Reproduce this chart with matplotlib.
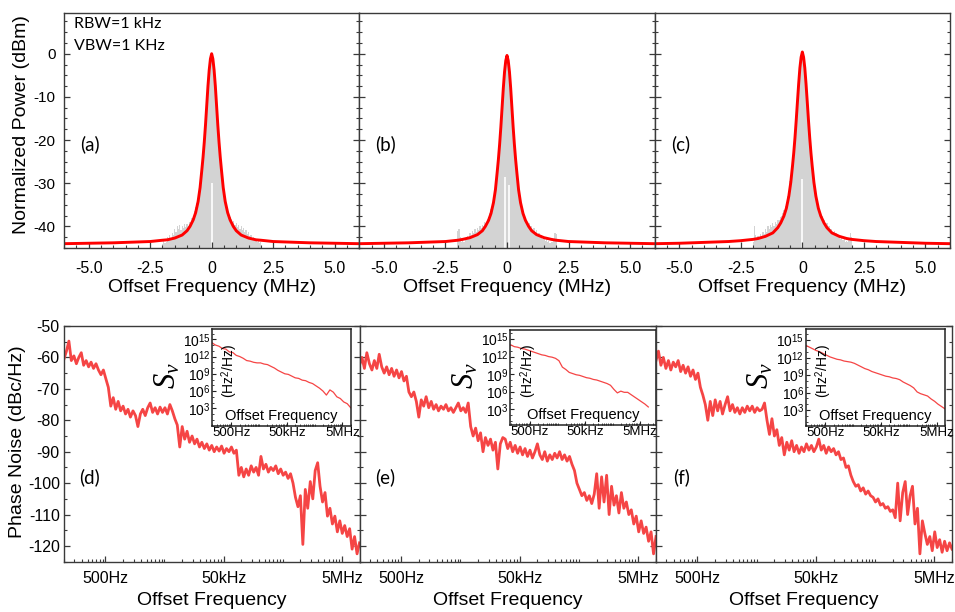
import numpy as np
import matplotlib
matplotlib.use("Agg")
import matplotlib.pyplot as plt
from matplotlib.ticker import FixedLocator, FixedFormatter, NullFormatter

plt.rcParams['font.family'] = ['Liberation Sans', 'DejaVu Sans']
plt.rcParams['mathtext.fontset'] = 'custom'
plt.rcParams['mathtext.rm'] = 'Liberation Sans'
plt.rcParams['mathtext.sf'] = 'Liberation Sans'
plt.rcParams['mathtext.it'] = 'Liberation Serif:italic'
plt.rcParams['mathtext.bf'] = 'Liberation Sans:bold'

# ------------------------------------------------------------------ data
# --- top row: beat-note spectra (offset frequency in MHz, power in dBm)
FIT_X = [-6, -5, -4, -3, -2.5, -2, -1.8, -1.5, -1.2, -1.0, -0.88, -0.75, -0.65,
         -0.55, -0.47, -0.4, -0.35, -0.3, -0.25, -0.2, -0.15, -0.1, -0.05, 0,
         0.05, 0.1, 0.15, 0.2, 0.25, 0.3, 0.35, 0.4, 0.47, 0.55, 0.65, 0.75,
         0.88, 1.0, 1.2, 1.5, 1.8, 2, 2.5, 3, 4, 5, 6]
_fa = [-44.0, -43.9, -43.8, -43.6, -43.5, -43.2, -43.1, -42.7, -42.0, -41.0, -40.0,
       -38.5, -36.8, -34.2, -31.0, -27.0, -24.0, -20.5, -16.5, -12.0, -7.5, -3.8, -1.2, 0.0]
_fb = [-44.0, -43.9, -43.8, -43.6, -43.5, -43.2, -43.0, -42.6, -41.9, -41.0, -40.0,
       -38.6, -37.0, -34.5, -31.5, -27.5, -24.5, -21.0, -17.0, -12.5, -8.0, -4.2, -1.6, -0.4]
_fc = [-44.0, -43.9, -43.7, -43.5, -43.3, -43.0, -42.8, -42.3, -41.5, -40.3, -39.2,
       -37.6, -35.8, -33.0, -29.8, -26.0, -23.0, -19.5, -15.5, -11.2, -7.0, -3.3, -0.8, 0.4]
FIT_A = _fa + _fa[-2::-1]
FIT_B = _fb + _fb[-2::-1]
FIT_C = _fc + _fc[-2::-1]

SPEC_X = [-2.0, -1.95, -1.9, -1.85, -1.8, -1.75, -1.7, -1.65, -1.6, -1.55,
          -1.5, -1.45, -1.4, -1.35, -1.3, -1.25, -1.2, -1.15, -1.1, -1.05,
          -1.0, -0.95, -0.9, -0.85, -0.8, -0.75, -0.7, -0.65, -0.6, -0.55,
          -0.5, -0.45, -0.4, -0.35, -0.3, -0.25, -0.2, -0.15, -0.1, -0.05,
          0.0,
          0.05, 0.1, 0.15, 0.2, 0.25, 0.3, 0.35, 0.4, 0.45, 0.5,
          0.55, 0.6, 0.65, 0.7, 0.75, 0.8, 0.85, 0.9, 0.95, 1.0,
          1.05, 1.1, 1.15, 1.2, 1.25, 1.3, 1.35, 1.4, 1.45, 1.5,
          1.55, 1.6, 1.65, 1.7, 1.75, 1.8, 1.85, 1.9, 1.95, 2.0]
SPEC_A = [-44.0, -43.0, -43.8, -43.5, -42.5, -43.2, -42.0, -42.8, -41.5, -42.0,
          -40.5, -41.2, -39.8, -40.6, -39.6, -40.8, -39.9, -40.3, -39.5, -40.2,
          -39.4, -39.8, -38.9, -39.0, -38.0, -37.5, -36.5, -35.5, -34.5, -33.8,
          -31.5, -30.0, -27.0, -24.0, -20.5, -16.5, -12.0, -7.5, -3.8, -1.2,
          0.0,
          -1.2, -3.8, -7.5, -12.0, -16.5, -20.5, -24.0, -27.0, -30.0, -31.8,
          -34.0, -35.0, -36.2, -37.0, -37.8, -38.3, -39.2, -38.8, -39.6, -39.3,
          -40.1, -39.7, -40.5, -40.0, -40.9, -40.4, -41.3, -40.8, -41.8, -41.2,
          -42.3, -42.0, -42.8, -42.4, -43.3, -42.9, -43.6, -43.4, -43.9, -43.7]
SPEC_B = [-41.0, -40.5, -42.5, -43.5, -43.0, -43.6, -42.8, -43.2, -42.2, -42.6,
          -41.5, -42.0, -41.0, -41.6, -40.6, -41.2, -40.3, -40.8, -40.0, -40.4,
          -39.6, -39.9, -39.0, -39.2, -38.3, -37.8, -37.0, -36.0, -35.0, -34.0,
          -32.0, -30.2, -27.5, -24.5, -21.0, -17.0, -12.5, -8.0, -4.2, -1.6,
          -0.4,
          -1.6, -4.2, -8.0, -12.5, -17.0, -21.0, -24.5, -27.5, -30.2, -32.2,
          -34.2, -35.3, -36.4, -37.3, -38.0, -38.6, -39.4, -39.2, -40.0, -39.8,
          -40.6, -40.4, -41.2, -40.9, -41.7, -41.5, -42.2, -42.0, -42.8, -42.6,
          -43.3, -43.0, -43.6, -43.4, -43.8, -43.7, -43.5, -42.8, -41.5, -41.8]
SPEC_C = [-43.5, -40.0, -42.0, -43.0, -42.2, -42.8, -41.8, -42.3, -41.2, -41.8,
          -40.6, -41.2, -40.0, -40.5, -39.6, -40.1, -39.3, -39.8, -38.9, -39.4,
          -38.5, -38.6, -37.8, -37.6, -36.8, -36.3, -35.2, -34.3, -33.0, -31.8,
          -29.5, -28.5, -26.0, -23.0, -19.5, -15.5, -11.2, -7.0, -3.3, -0.8,
          0.4,
          -0.8, -3.3, -7.0, -11.2, -15.5, -19.5, -23.0, -26.0, -28.5, -30.0,
          -32.3, -33.6, -35.0, -36.0, -37.0, -37.6, -38.5, -38.4, -39.3, -39.2,
          -40.0, -39.8, -40.7, -40.5, -41.3, -41.0, -41.8, -41.6, -42.3, -42.0,
          -42.8, -42.5, -43.2, -43.0, -43.5, -43.3, -43.6, -43.2, -41.6, -42.5]
# narrow gaps in the measured trace near the carrier (x, top of gap)
GAP_A_X, GAP_A_TOP = [0.03], [-30.0]
GAP_B_X, GAP_B_TOP = [-0.08, 0.07], [-28.5, -30.5]
GAP_C_X, GAP_C_TOP = [0.0], [-29.0]
SPEC_FLOOR = -45

# --- bottom row: phase noise (dBc/Hz) vs offset frequency (Hz)
FREQ_MANT = [1.00, 1.10, 1.21, 1.33, 1.47, 1.62, 1.78, 1.96, 2.15, 2.37, 2.61, 2.87,
             3.16, 3.48, 3.83, 4.22, 4.64, 5.11, 5.62, 6.19, 6.81, 7.50, 8.25, 9.09]
FREQ_DECADES = [1e2, 1e3, 1e4, 1e5, 1e6]
FREQ_END = 1e7
PN_D = [-60.5, -58.0, -54.8, -61.0, -59.5, -62.0, -60.0, -58.5, -62.5, -61.0,
        -63.0, -61.5, -63.5, -62.0, -64.0, -65.5, -64.0, -66.8, -69.5, -75.5,
        -72.8, -76.5, -74.0, -77.0, -75.5, -78.0, -76.5, -79.0, -77.0, -78.5,
        -82.0, -78.0, -76.5, -78.5, -76.0, -74.5, -77.5, -76.0, -78.0, -75.8,
        -77.5, -76.0, -78.0, -75.0, -77.0, -79.5, -81.5, -88.5, -82.0, -86.0,
        -83.5, -87.0, -85.0, -87.5, -86.0, -88.5, -87.0, -89.0, -87.5, -89.5,
        -88.0, -90.0, -88.5, -89.8, -88.2, -90.5, -89.0, -90.0, -88.5, -90.5,
        -89.5, -97.5, -95.0, -98.0, -95.5, -97.5, -94.5, -96.5, -95.0, -97.5,
        -91.5, -95.5, -94.0, -96.5, -95.0, -96.0, -94.5, -97.0, -95.5, -97.5,
        -96.5, -98.5, -97.0, -100.0, -104.5, -107.5, -104.0, -119.5, -102.0, -108.0,
        -99.5, -105.0, -96.0, -93.5, -101.0, -106.0, -103.0, -110.5, -108.0, -113.0,
        -110.5, -115.5, -112.0, -116.0, -113.5, -117.0, -114.5, -121.0, -117.0, -122.5,
        -119.0]
PN_E = [-62.5, -60.0, -63.5, -58.5, -62.0, -64.0, -61.0, -63.5, -59.0, -63.0,
        -65.0, -63.0, -65.5, -63.5, -66.0, -64.0, -66.5, -64.5, -67.5, -66.0,
        -71.0, -72.5, -71.0, -74.0, -79.0, -73.5, -75.5, -72.5, -76.0, -74.0,
        -76.5, -75.0, -77.0, -75.5, -76.5, -75.0, -77.0, -76.0, -77.5, -76.0,
        -74.5, -77.0, -76.0, -77.5, -74.5, -82.0, -85.0, -82.5, -86.5, -84.0,
        -90.0, -85.5, -88.0, -86.0, -89.5, -87.0, -95.5, -87.5, -85.5, -86.0,
        -89.0, -87.0, -90.0, -88.0, -90.5, -88.5, -91.0, -89.0, -91.5, -89.5,
        -92.0, -90.0, -87.5, -91.0, -92.5, -90.0, -93.0, -91.0, -92.5, -90.5,
        -92.0, -90.0, -92.5, -91.0, -93.0, -91.5, -94.0, -96.0, -100.0, -102.0,
        -104.0, -103.0, -105.5, -104.0, -106.5, -103.5, -97.0, -108.0, -98.0, -106.0,
        -97.5, -110.0, -101.0, -107.0, -104.0, -109.5, -103.0, -108.0, -106.0, -110.0,
        -108.5, -113.0, -110.5, -115.5, -112.0, -116.0, -114.0, -118.5, -115.5, -122.5,
        -117.0]
PN_F = [-61.0, -58.0, -62.5, -60.0, -63.5, -61.0, -64.0, -61.5, -63.0, -61.0,
        -64.5, -62.5, -65.0, -63.0, -66.0, -64.0, -67.0, -65.0, -69.5, -72.0,
        -75.0, -80.0, -74.0, -78.5, -73.5, -77.0, -74.0, -78.0, -75.0, -72.5,
        -77.0, -75.0, -77.5, -76.0, -78.0, -76.0, -77.5, -75.5, -77.0, -75.5,
        -77.5, -76.0, -77.0, -76.5, -74.5, -80.0, -84.5, -79.5, -85.0, -83.0,
        -88.0, -85.5, -91.0, -87.0, -89.5, -86.5, -90.0, -88.0, -90.5, -88.5,
        -90.0, -87.5, -89.5, -88.0, -90.0, -88.5, -86.0, -89.5, -88.0, -90.5,
        -88.5, -90.0, -89.0, -91.0, -90.0, -92.5, -92.0, -95.0, -94.5, -97.5,
        -99.5, -101.0, -100.5, -102.5, -101.5, -103.5, -102.5, -104.0, -104.5, -106.0,
        -105.0, -107.0, -106.5, -108.0, -107.5, -109.0, -108.5, -111.0, -100.0, -112.0,
        -103.0, -99.5, -110.0, -104.0, -101.0, -113.0, -108.0, -122.5, -112.0, -116.0,
        -119.5, -117.0, -121.5, -115.5, -120.5, -118.0, -122.0, -118.5, -121.5, -119.0,
        -121.0]

# --- insets: frequency-noise PSD S_nu (log10 of Hz^2/Hz)
INSET_MANT = [1.00, 1.33, 1.78, 2.37, 3.16, 4.22, 5.62, 7.50]
SV_D_EXP = [14.4, 14.0, 13.8, 13.4, 13.3, 12.8, 12.7, 12.2, 12.0, 11.7, 11.3, 11.2,
            11.0, 10.9, 10.9, 10.7, 10.6, 10.3, 10.0, 9.6, 9.3, 9.0, 8.9, 8.6,
            8.3, 8.2, 7.9, 7.8, 7.5, 7.3, 6.9, 6.5, 6.0, 5.3, 6.2, 5.8, 5.0,
            4.7, 4.1, 3.8, 3.1]
SV_E_EXP = [14.0, 13.7, 13.6, 13.4, 13.3, 13.1, 12.9, 12.7, 12.5, 12.3, 12.2, 12.0,
            11.9, 11.7, 11.3, 10.2, 9.8, 9.3, 9.1, 8.9, 8.8, 8.6, 8.4, 8.3,
            8.1, 8.0, 7.8, 7.6, 7.4, 7.1, 6.4, 5.8, 6.1, 5.9, 5.9, 5.5, 5.1,
            4.7, 4.3, 3.9, 3.4]
SV_F_EXP = [14.1, 13.8, 13.5, 13.2, 13.0, 12.7, 12.4, 12.1, 11.9, 11.7, 11.6, 11.4,
            11.3, 11.2, 11.0, 10.7, 10.4, 10.1, 9.9, 9.6, 9.4, 9.2, 9.0, 8.8,
            8.7, 8.5, 8.4, 8.2, 7.8, 7.5, 7.2, 6.8, 6.1, 5.8, 5.6, 5.4, 4.9,
            4.5, 4.0, 3.6, 3.2]

TOP_XTICKS = [-5, -2.5, 0, 2.5, 5]
TOP_XTICKLABELS = ['-5.0', '-2.5', '0', '2.5', '5.0']
TOP_YTICKS = [-40, -30, -20, -10, 0]
TOP_YTICKLABELS = ['-40', '-30', '-20', '-10', '0']
BOT_XTICKS = [500, 5e4, 5e6]
BOT_XTICKLABELS = ['500Hz', '50kHz', '5MHz']
BOT_YTICKS = [-120, -110, -100, -90, -80, -70, -60, -50]
BOT_YTICKLABELS = ['-120', '-110', '-100', '-90', '-80', '-70', '-60', '-50']
INSET_YTICKS = [1e3, 1e6, 1e9, 1e12, 1e15]
INSET_YTICKLABELS = ['$10^{3}$', '$10^{6}$', '$10^{9}$', '$10^{12}$', '$10^{15}$']
PANEL_LABELS = ['(a)', '(b)', '(c)', '(d)', '(e)', '(f)']

# ------------------------------------------------------------------ figure
W, H = 955, 612
fig = plt.figure(figsize=(W / 100, H / 100), dpi=100)


def add_px_axes(x0, y0, x1, y1, **kw):
    return fig.add_axes([x0 / W, 1 - y1 / H, (x1 - x0) / W, (y1 - y0) / H], **kw)


SPINE = '#3a3a3a'
FIT_RED = '#ff0000'
PN_RED = '#f54545'
GREY = '#d3d3d3'
LABEL_FONT = ['Lato', 'DejaVu Sans']


def style(ax):
    for s in ax.spines.values():
        s.set_color(SPINE)
        s.set_linewidth(1.0)
    ax.tick_params(which='both', direction='in', top=False, right=True,
                   color=SPINE, labelcolor='black')
    ax.tick_params(which='major', length=4.5, width=0.9)
    ax.tick_params(which='minor', length=2.5, width=0.8)


freq = [m * d for d in FREQ_DECADES for m in FREQ_MANT] + [FREQ_END]
inset_freq = [m * d for d in FREQ_DECADES for m in INSET_MANT] + [FREQ_END]
minor_log = [k * 50 * 10 ** n for n in range(0, 6) for k in range(2, 11)]

top_rects = [(64, 12.7, 359.3, 248), (359.3, 12.7, 654.7, 248), (654.7, 12.7, 950, 248)]
bot_rects = [(64, 326, 359.5, 561.7), (359.5, 326, 656, 561.7), (656, 326, 952, 561.7)]
inset_rects = [(212, 329.3, 350.7, 426), (510, 330, 656, 425), (805.7, 329.3, 945, 426)]
inset_xlims = [(1e2, 1e7), (10 ** 1.97, 10 ** 7.28), (1e2, 1e7)]
inset_ylims = [(10 ** -0.08, 10 ** 16.74), (10 ** 0.32, 10 ** 16.54), (10 ** 0.26, 10 ** 16.84)]

fits = [FIT_A, FIT_B, FIT_C]
specs = [SPEC_A, SPEC_B, SPEC_C]
gaps = [(GAP_A_X, GAP_A_TOP), (GAP_B_X, GAP_B_TOP), (GAP_C_X, GAP_C_TOP)]
pns = [PN_D, PN_E, PN_F]
svs = [SV_D_EXP, SV_E_EXP, SV_F_EXP]

# ---- top row
for i in range(3):
    ax = add_px_axes(*top_rects[i])
    style(ax)
    spec = np.array(specs[i])
    ax.bar(SPEC_X, spec - SPEC_FLOOR, bottom=SPEC_FLOOR, width=0.05,
           color=GREY, linewidth=0, zorder=1)
    gx, gt = gaps[i]
    ax.vlines(gx, SPEC_FLOOR, gt, color='white', linewidth=1.2, zorder=1.5)
    ax.plot(FIT_X, fits[i], color=FIT_RED, linewidth=2.1, zorder=2,
            solid_joinstyle='round')
    ax.set_xlim(-6, 6)
    ax.set_ylim(-45, 9.5)
    ax.xaxis.set_major_locator(FixedLocator(TOP_XTICKS))
    ax.xaxis.set_major_formatter(FixedFormatter(TOP_XTICKLABELS))
    ax.xaxis.set_minor_locator(FixedLocator([v * 0.5 for v in range(-12, 13)]))
    ax.yaxis.set_major_locator(FixedLocator(TOP_YTICKS))
    ax.yaxis.set_minor_locator(FixedLocator([v * 2.5 for v in range(-18, 4)]))
    ax.tick_params(axis='x', labelsize=11.5, pad=9.5)
    if i == 0:
        ax.yaxis.set_major_formatter(FixedFormatter(TOP_YTICKLABELS))
        ax.tick_params(axis='y', labelsize=11, pad=6)
        ax.text(0.034, 0.95, 'RBW=1 kHz', transform=ax.transAxes, ha='left',
                va='center', fontsize=11.5, family=LABEL_FONT)
        ax.text(0.034, 0.86, 'VBW=1 KHz', transform=ax.transAxes, ha='left',
                va='center', fontsize=11.5, family=LABEL_FONT)
    else:
        ax.yaxis.set_major_formatter(NullFormatter())
    ax.set_xlabel('Offset Frequency (MHz)', fontsize=14)
    ax.xaxis.set_label_coords(0.5, -0.13)
    ax.text(0.088, 0.44, PANEL_LABELS[i], transform=ax.transAxes, ha='center',
            va='center', fontsize=13.5, family=LABEL_FONT)

fig.text(22 / W, 1 - 125 / H, 'Normalized Power (dBm)', rotation=90,
         ha='center', va='center', fontsize=14)

# ---- bottom row
for i in range(3):
    ax = add_px_axes(*bot_rects[i])
    style(ax)
    ax.plot(freq, pns[i], color=PN_RED, linewidth=2.0, zorder=2)
    ax.set_xscale('log')
    ax.set_xlim(1e2, 1e7)
    ax.set_ylim(-125, -50)
    ax.xaxis.set_major_locator(FixedLocator(BOT_XTICKS))
    ax.xaxis.set_major_formatter(FixedFormatter(BOT_XTICKLABELS))
    ax.xaxis.set_minor_locator(FixedLocator(minor_log))
    ax.xaxis.set_minor_formatter(NullFormatter())
    ax.yaxis.set_major_locator(FixedLocator(BOT_YTICKS))
    ax.yaxis.set_minor_locator(FixedLocator([v * 5 for v in range(-25, -9)]))
    ax.tick_params(axis='x', labelsize=11.5, pad=7)
    if i == 0:
        ax.yaxis.set_major_formatter(FixedFormatter(BOT_YTICKLABELS))
        ax.tick_params(axis='y', labelsize=11.5, pad=3)
    else:
        ax.yaxis.set_major_formatter(NullFormatter())
    ax.set_xlabel('Offset Frequency', fontsize=14)
    ax.xaxis.set_label_coords(0.5, -0.13)
    ax.text(0.086, 0.357, PANEL_LABELS[3 + i], transform=ax.transAxes,
            ha='center', va='center', fontsize=13.5, family=LABEL_FONT)

    # inset
    r = inset_rects[i]
    ai = add_px_axes(*r)
    for s in ai.spines.values():
        s.set_color('#222222')
        s.set_linewidth(1.1)
    ai.plot(inset_freq, 10.0 ** np.array(svs[i]), color=PN_RED, linewidth=0.9)
    ai.set_xscale('log')
    ai.set_yscale('log')
    ai.set_xlim(*inset_xlims[i])
    ai.set_ylim(*inset_ylims[i])
    ai.xaxis.set_major_locator(FixedLocator(BOT_XTICKS))
    ai.xaxis.set_major_formatter(FixedFormatter(BOT_XTICKLABELS))
    ai.xaxis.set_minor_locator(FixedLocator(minor_log))
    ai.xaxis.set_minor_formatter(NullFormatter())
    ai.yaxis.set_major_locator(FixedLocator(INSET_YTICKS))
    ai.yaxis.set_major_formatter(FixedFormatter(INSET_YTICKLABELS))
    ai.yaxis.set_minor_locator(FixedLocator([10.0 ** n for n in range(0, 17)]))
    ai.yaxis.set_minor_formatter(NullFormatter())
    ai.tick_params(which='both', direction='in', color='#222222', pad=1)
    ai.tick_params(axis='x', labelsize=9.5)
    ai.tick_params(axis='y', labelsize=10)
    ai.tick_params(which='major', length=3)
    ai.tick_params(which='minor', length=1.5)
    ai.text(0.5, 0.03, 'Offset Frequency', transform=ai.transAxes, ha='center',
            va='bottom', fontsize=10.5)
    ai.text(0.13, 0.57, '(Hz$^2$/Hz)', transform=ai.transAxes, ha='center',
            va='center', rotation=90, fontsize=10)
    wpx = r[2] - r[0]
    ai.text(-45 / wpx, 0.52, r'$S_\nu$', transform=ai.transAxes, ha='center',
            va='center', rotation=90, fontsize=22)

fig.text(17 / W, 1 - 442 / H, 'Phase Noise (dBc/Hz)', rotation=90,
         ha='center', va='center', fontsize=14)

fig.savefig('out.png', dpi=100)
